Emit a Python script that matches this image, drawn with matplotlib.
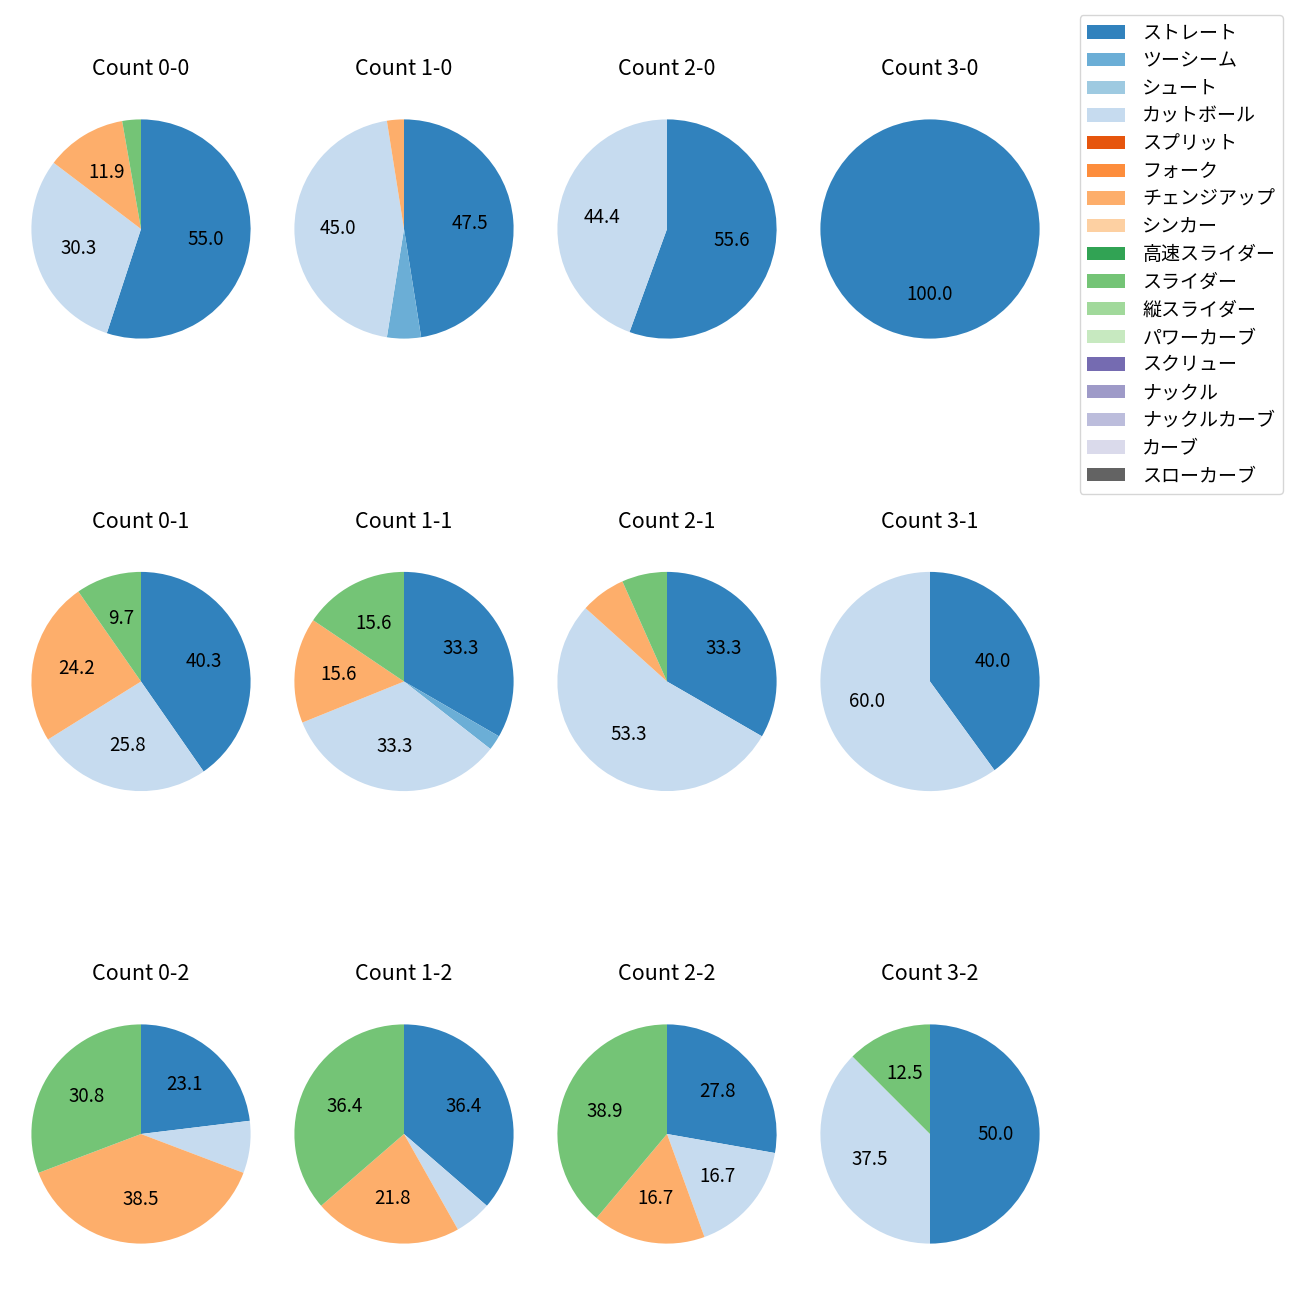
import matplotlib
matplotlib.use('Agg')
import matplotlib.pyplot as plt
from matplotlib.patches import Patch

plt.rcParams['font.family'] = ['Noto Sans CJK JP', 'DejaVu Sans']

# pitch types in legend order
pitch_types = ['ストレート', 'ツーシーム', 'シュート', 'カットボール', 'スプリット', 'フォーク',
               'チェンジアップ', 'シンカー', '高速スライダー', 'スライダー', '縦スライダー',
               'パワーカーブ', 'スクリュー', 'ナックル', 'ナックルカーブ', 'カーブ', 'スローカーブ']

# pitch counts per ball-strike count (same order as pitch_types)
c0_0 = [60, 0, 0, 33, 0, 0, 13, 0, 0, 3, 0, 0, 0, 0, 0, 0, 0]
c1_0 = [19, 2, 0, 18, 0, 0, 1, 0, 0, 0, 0, 0, 0, 0, 0, 0, 0]
c2_0 = [5, 0, 0, 4, 0, 0, 0, 0, 0, 0, 0, 0, 0, 0, 0, 0, 0]
c3_0 = [1, 0, 0, 0, 0, 0, 0, 0, 0, 0, 0, 0, 0, 0, 0, 0, 0]
c0_1 = [25, 0, 0, 16, 0, 0, 15, 0, 0, 6, 0, 0, 0, 0, 0, 0, 0]
c1_1 = [15, 1, 0, 15, 0, 0, 7, 0, 0, 7, 0, 0, 0, 0, 0, 0, 0]
c2_1 = [5, 0, 0, 8, 0, 0, 1, 0, 0, 1, 0, 0, 0, 0, 0, 0, 0]
c3_1 = [2, 0, 0, 3, 0, 0, 0, 0, 0, 0, 0, 0, 0, 0, 0, 0, 0]
c0_2 = [3, 0, 0, 1, 0, 0, 5, 0, 0, 4, 0, 0, 0, 0, 0, 0, 0]
c1_2 = [20, 0, 0, 3, 0, 0, 12, 0, 0, 20, 0, 0, 0, 0, 0, 0, 0]
c2_2 = [5, 0, 0, 3, 0, 0, 3, 0, 0, 7, 0, 0, 0, 0, 0, 0, 0]
c3_2 = [4, 0, 0, 3, 0, 0, 0, 0, 0, 1, 0, 0, 0, 0, 0, 0, 0]

counts = [['0-0', '1-0', '2-0', '3-0'],
          ['0-1', '1-1', '2-1', '3-1'],
          ['0-2', '1-2', '2-2', '3-2']]
data = {'0-0': c0_0, '1-0': c1_0, '2-0': c2_0, '3-0': c3_0,
        '0-1': c0_1, '1-1': c1_1, '2-1': c2_1, '3-1': c3_1,
        '0-2': c0_2, '1-2': c1_2, '2-2': c2_2, '3-2': c3_2}

cmap = plt.get_cmap('tab20c')
colors = [cmap(i) for i in range(len(pitch_types))]

fig = plt.figure(figsize=(13, 13), dpi=100)

W = 1300.0
size = 274
for i, row in enumerate(counts):
    for j, cnt in enumerate(row):
        cx = 141 + 263 * j
        cy = 229 + 452.5 * i
        ax = fig.add_axes([(cx - size / 2) / W, 1 - (cy + size / 2) / W, size / W, size / W])
        vals = data[cnt]
        idx = [k for k, v in enumerate(vals) if v > 0]
        ax.pie([vals[k] for k in idx], colors=[colors[k] for k in idx],
               startangle=90, counterclock=False,
               autopct=lambda p: f'{p:.1f}' if p > 9 else '',
               textprops={'fontsize': 13.5})
        ax.set_title(f'Count {cnt}', fontsize=15.5, pad=12)

handles = [Patch(facecolor=colors[k], label=pitch_types[k]) for k in range(len(pitch_types))]
fig.legend(handles=handles, loc='upper right', bbox_to_anchor=(1283 / W, 1 - 15 / W),
           borderaxespad=0, fontsize=13.7, labelspacing=0.35, handletextpad=0.9)

fig.savefig('out.png', dpi=100)
